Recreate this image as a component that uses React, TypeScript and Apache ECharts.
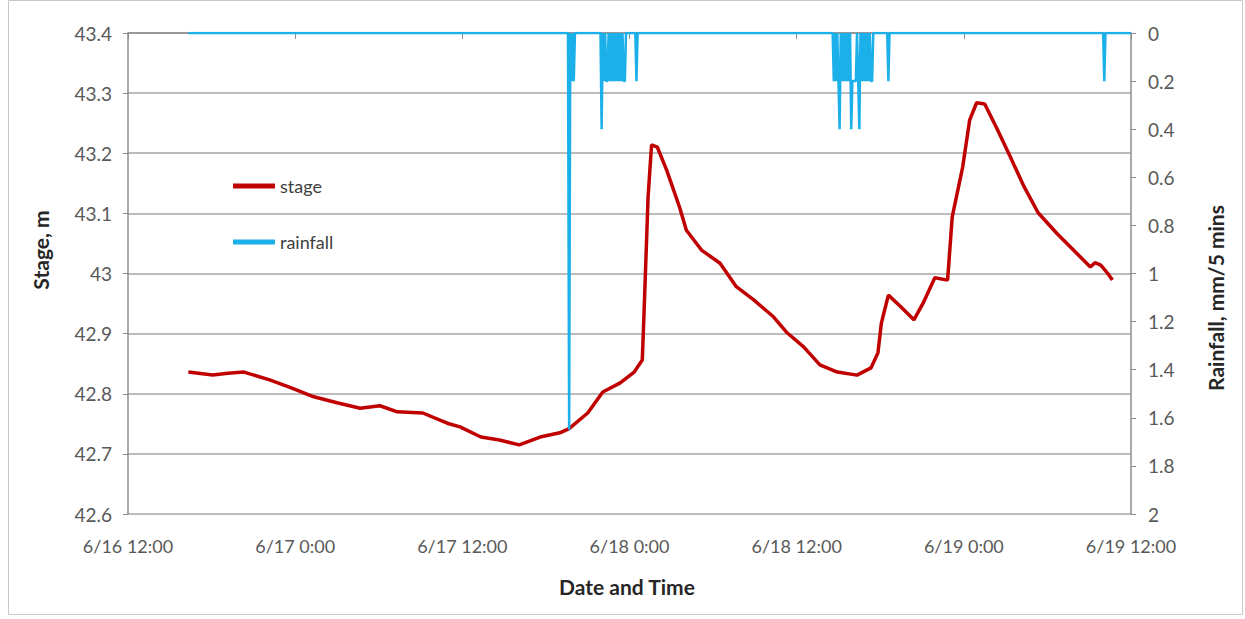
import React, { useEffect, useRef } from "react";
import * as echarts from "echarts";

const xTickLabels = ["6/16 12:00", "6/17 0:00", "6/17 12:00", "6/18 0:00", "6/18 12:00", "6/19 0:00", "6/19 12:00"];

const stageTimes = [
  "6/16 16:20", "6/16 18:05", "6/16 19:10", "6/16 20:20", "6/16 22:10", "6/16 23:35",
  "6/17 1:20", "6/17 3:00", "6/17 4:40", "6/17 6:05", "6/17 7:20", "6/17 9:10", "6/17 10:55",
  "6/17 11:50", "6/17 13:20", "6/17 14:40", "6/17 16:05", "6/17 17:35", "6/17 19:00", "6/17 19:40",
  "6/17 21:00", "6/17 22:05", "6/17 23:20", "6/18 0:20", "6/18 0:55", "6/18 1:00", "6/18 1:20",
  "6/18 1:35", "6/18 2:00", "6/18 2:40", "6/18 3:35", "6/18 4:05", "6/18 5:10", "6/18 6:30",
  "6/18 7:40", "6/18 8:55", "6/18 10:20", "6/18 11:20", "6/18 12:30", "6/18 13:40", "6/18 14:55",
  "6/18 16:20", "6/18 17:20", "6/18 17:50", "6/18 18:05", "6/18 18:35", "6/18 19:25", "6/18 20:25",
  "6/18 21:05", "6/18 21:55", "6/18 22:50", "6/18 23:10", "6/18 23:55", "6/19 0:25", "6/19 0:55",
  "6/19 1:30", "6/19 2:25", "6/19 3:20", "6/19 4:20", "6/19 5:20", "6/19 6:40", "6/19 8:05",
  "6/19 9:05", "6/19 9:25", "6/19 9:50", "6/19 10:20", "6/19 10:40",
];
const stageValues = [
  42.836, 42.831, 42.834, 42.836, 42.823, 42.811,
  42.795, 42.785, 42.776, 42.780, 42.770, 42.768, 42.751,
  42.745, 42.728, 42.723, 42.715, 42.728, 42.735, 42.742,
  42.768, 42.803, 42.818, 42.836, 42.856, 42.906, 43.127,
  43.214, 43.210, 43.172, 43.111, 43.072, 43.039, 43.017,
  42.978, 42.956, 42.928, 42.901, 42.878, 42.848, 42.836,
  42.831, 42.843, 42.868, 42.918, 42.964, 42.946, 42.923,
  42.951, 42.993, 42.989, 43.094, 43.177, 43.255, 43.284,
  43.282, 43.239, 43.194, 43.144, 43.101, 43.067, 43.034,
  43.011, 43.018, 43.014, 43.000, 42.989,
];

const rainStart = "6/16 16:20";
const rainEnd = "6/19 12:00";
const rainTimes = [
  "6/17 19:40", "6/17 19:50", "6/17 20:00",
  "6/17 22:00", "6/17 22:10", "6/17 22:20", "6/17 22:25", "6/17 22:35", "6/17 22:45", "6/17 22:55",
  "6/17 23:05", "6/17 23:15", "6/17 23:25", "6/17 23:35", "6/17 23:40",
  "6/18 0:30",
  "6/18 14:40", "6/18 14:50", "6/18 15:00", "6/18 15:05", "6/18 15:15", "6/18 15:25", "6/18 15:35",
  "6/18 15:45", "6/18 15:55", "6/18 16:00", "6/18 16:05", "6/18 16:10", "6/18 16:15", "6/18 16:25",
  "6/18 16:30", "6/18 16:40", "6/18 16:50", "6/18 17:00", "6/18 17:10", "6/18 17:20", "6/18 17:25",
  "6/18 18:35",
  "6/19 10:05",
];
const rainValues = [
  1.65, 0.2, 0.2,
  0.4, 0.2, 0.2, 0.2, 0.2, 0.2, 0.2,
  0.2, 0.2, 0.2, 0.2, 0.2,
  0.2,
  0.2, 0.2, 0.2, 0.4, 0.2, 0.2, 0.2,
  0.2, 0.4, 0.2, 0.2, 0.2, 0.2, 0.2,
  0.4, 0.2, 0.2, 0.2, 0.2, 0.2, 0.2,
  0.2,
  0.2,
];

// hours since 6/16 12:00
function hours(s: string): number {
  const [d, tm] = s.split(" ");
  const day = Number(d.split("/")[1]);
  const [H, M] = tm.split(":").map(Number);
  return (day - 16) * 24 + H + M / 60 - 12;
}

export default function App() {
  const ref = useRef<HTMLDivElement>(null);
  useEffect(() => {
    if (!ref.current) return;
    const chart = echarts.init(ref.current, null, { renderer: "svg" });

    const stageData = stageTimes.map((t, i) => [hours(t), stageValues[i]]);
    const rainMap = new Map<number, number>();
    rainTimes.forEach((t, i) => rainMap.set(Math.round(hours(t) * 60), rainValues[i]));
    const rainData: number[][] = [];
    const s0 = Math.round(hours(rainStart) * 60);
    const s1 = Math.round(hours(rainEnd) * 60);
    for (let m = s0; m <= s1; m += 5) {
      rainData.push([m / 60, rainMap.get(m) ?? 0]);
    }

    const font = "Lato, 'Open Sans', sans-serif";
    const labelColor = "#595959";
    const axisColor = "#8c8c8c";

    chart.setOption({
      animation: false,
      backgroundColor: "#ffffff",
      grid: { left: 128, right: 114, top: 33, bottom: 105 },
      legend: {
        data: ["stage", "rainfall"],
        orient: "vertical",
        left: 228,
        top: 172,
        itemWidth: 42,
        itemHeight: 5,
        itemGap: 38,
        icon: "rect",
        textStyle: { fontSize: 18, color: "#404040", fontFamily: font },
      },
      xAxis: {
        type: "value",
        min: 0,
        max: 72,
        interval: 12,
        axisLine: { show: true, lineStyle: { color: axisColor, width: 1.5 } },
        axisTick: { show: true, length: 6, lineStyle: { color: axisColor } },
        splitLine: { show: false },
        axisLabel: {
          margin: 23,
          fontSize: 18,
          color: labelColor,
          fontFamily: font,
          formatter: (v: number) => xTickLabels[Math.round(v / 12)] ?? "",
        },
      },
      yAxis: [
        {
          type: "value",
          min: 42.6,
          max: 43.4,
          interval: 0.1,
          axisLine: { show: true, lineStyle: { color: axisColor, width: 1.5 } },
          axisTick: { show: true, length: 5, lineStyle: { color: axisColor } },
          splitLine: { show: true, lineStyle: { color: "#a6a6a6", width: 1.5 } },
          axisLabel: {
            margin: 16,
            fontSize: 19,
            color: labelColor,
            fontFamily: font,
            formatter: (v: number) => String(+v.toFixed(1)),
          },
        },
        {
          type: "value",
          position: "right",
          inverse: true,
          min: 0,
          max: 2,
          interval: 0.2,
          axisLine: { show: true, lineStyle: { color: axisColor, width: 1.5 } },
          axisTick: { show: true, length: 5, lineStyle: { color: axisColor } },
          splitLine: { show: false },
          axisLabel: {
            margin: 17,
            fontSize: 19,
            color: labelColor,
            fontFamily: font,
            formatter: (v: number) => String(+v.toFixed(1)),
          },
        },
      ],
      series: [
        {
          name: "stage",
          type: "line",
          yAxisIndex: 0,
          data: stageData,
          showSymbol: false,
          symbol: "none",
          color: "#c00000",
          lineStyle: { color: "#c00000", width: 3.5 },
        },
        {
          name: "rainfall",
          type: "line",
          yAxisIndex: 1,
          data: rainData,
          showSymbol: false,
          symbol: "none",
          color: "#1cb0ea",
          lineStyle: { color: "#1cb0ea", width: 2.5 },
        },
      ],
      graphic: [
        {
          type: "rect",
          shape: { x: 8.5, y: 0.5, width: 1234, height: 614 },
          style: { fill: "none", stroke: "#c8c8c8", lineWidth: 1 },
          silent: true,
        },
        {
          type: "text",
          x: 40,
          y: 250,
          rotation: Math.PI / 2,
          style: {
            text: "Stage, m",
            fontSize: 21,
            fontWeight: "bold",
            fill: "#262626",
            fontFamily: font,
            align: "center",
            verticalAlign: "middle",
          },
        },
        {
          type: "text",
          x: 1215,
          y: 298,
          rotation: Math.PI / 2,
          style: {
            text: "Rainfall, mm/5 mins",
            fontSize: 21,
            fontWeight: "bold",
            fill: "#262626",
            fontFamily: font,
            align: "center",
            verticalAlign: "middle",
          },
        },
        {
          type: "text",
          x: 627,
          y: 586,
          style: {
            text: "Date and Time",
            fontSize: 21,
            fontWeight: "bold",
            fill: "#262626",
            fontFamily: font,
            align: "center",
            verticalAlign: "middle",
          },
        },
      ],
    });
    return () => chart.dispose();
  }, []);
  return (
    <div
      ref={ref}
      style={{ position: "fixed", left: 0, top: 0, width: 1245, height: 619 }}
    />
  );
}
